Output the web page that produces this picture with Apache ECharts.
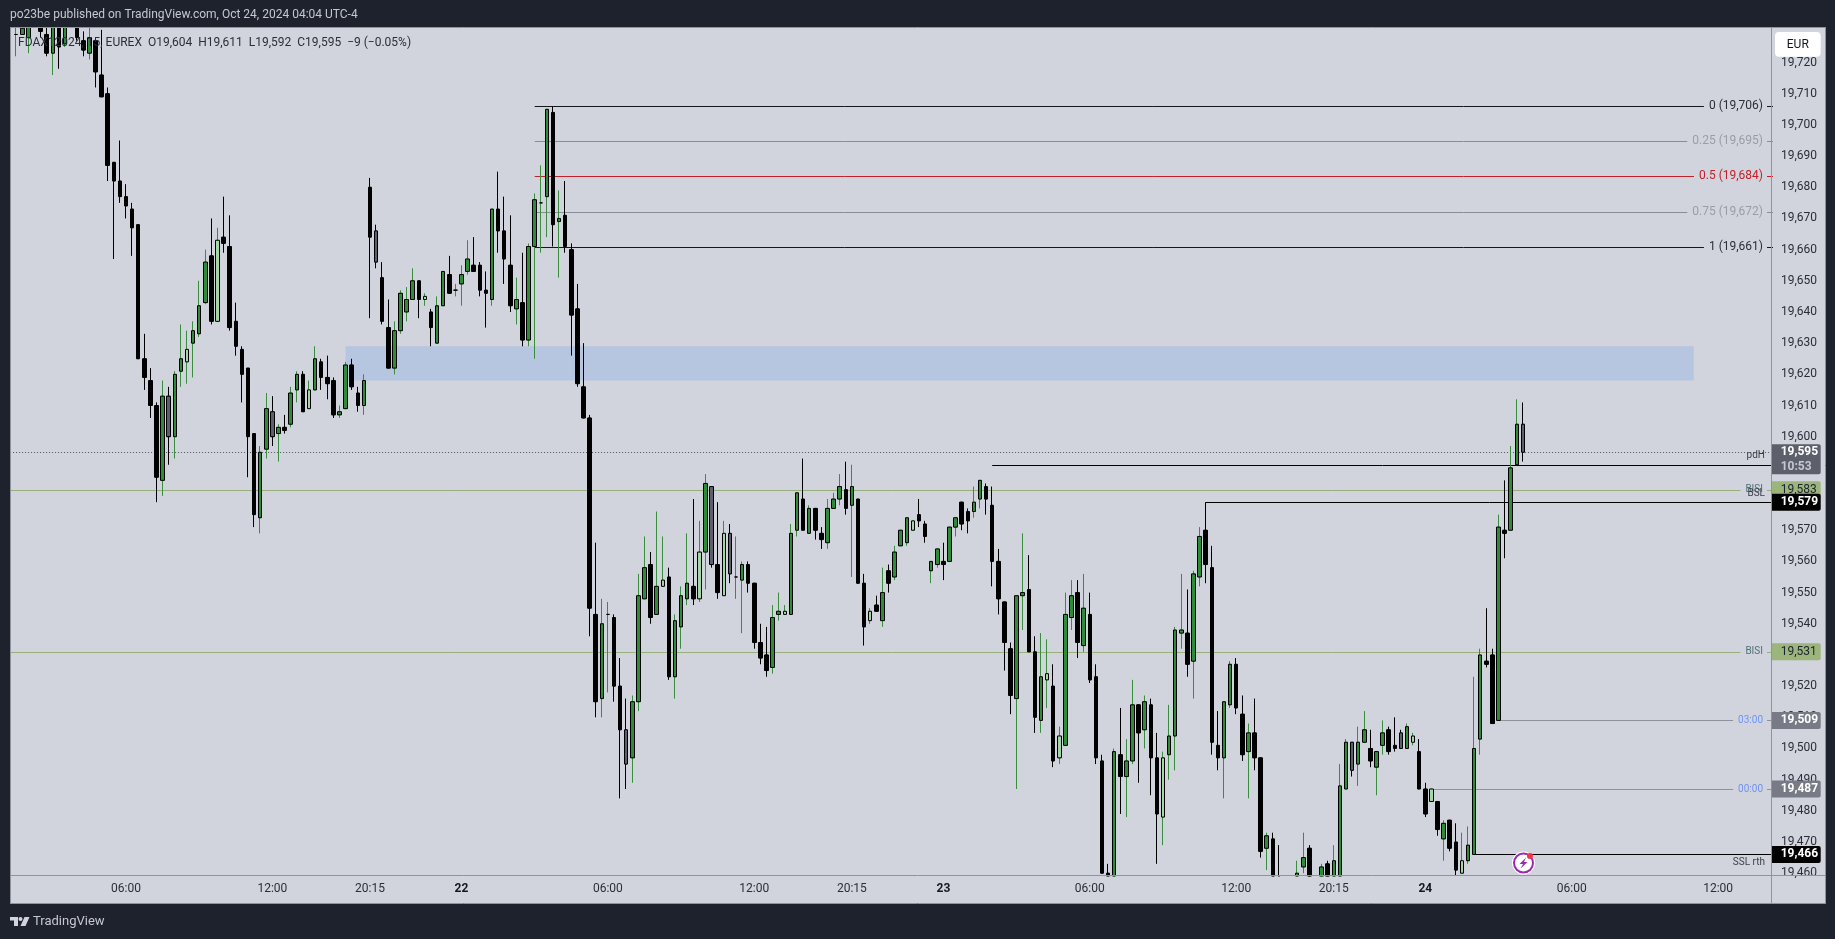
<!DOCTYPE html>
<html><head><meta charset="utf-8">
<style>html,body{margin:0;padding:0;background:#1e222d;overflow:hidden}#c{width:1835px;height:939px}</style>
<script src="https://cdn.jsdelivr.net/npm/echarts@6/dist/echarts.min.js"></script>
</head><body><div id="c"></div>
<script>
// ---------- values: [open, close, low, high] ----------
const barsPart1 = [
[19729,19729,19722,19735],[19729,19731,19729,19733],[19728,19738,19723,19740],[19745,19738,19736,19746],[19738,19730,19728,19740],
[19729,19723,19722,19734],[19723,19738,19716,19742],[19738,19725,19718,19742],[19726,19736,19725,19738],[19734,19740,19733,19742],
[19738,19728,19727,19740],[19727,19724,19722,19730],[19723,19728,19721,19733],[19727,19717,19712,19728],[19716,19709,19709,19730.5],
[19710,19687,19682,19712],[19688,19682,19657,19688],[19682,19677,19675,19695],[19677,19674,19670,19681],[19673,19667,19658,19675],
[19668,19625,19625,19668],[19625,19619,19615,19633],[19618,19610,19606,19622],[19610,19587,19579,19611],[19586,19613,19581,19618],
[19613,19600,19591,19616],[19600,19620,19593,19621],[19621,19625,19616,19636],[19624,19628,19617,19634],[19630,19634,19619,19637],
[19633,19642,19632,19650],[19643,19656,19642.5,19660],[19658,19637,19636,19670],[19637,19663,19637,19667],[19664,19662,19659,19677],
[19661,19635,19634,19671],[19637,19629,19626,19643],[19628,19620,19611,19629],[19622,19600,19587,19622],[19601,19575,19571,19601],
[19574,19595,19569,19597],[19596,19609,19593,19614],[19608,19600,19597,19613],[19601,19603,19592,19604],[19603,19602,19601,19607],
[19604,19614,19603,19616],[19615,19620,19611,19621],[19620,19608,19608,19621],[19609,19615,19609,19618],[19615,19625,19615,19629],
[19624,19619,19615,19625],[19619,19617,19612,19626],[19618,19607,19606,19619],[19607,19608,19606,19610],[19609,19623,19609,19624],
[19623,19616,19615,19625],[19614,19610,19608,19616],[19610,19618,19607,19620],[19680,19664,19638,19683],[19666,19656,19654,19668],
[19651,19637,19636,19656],[19635,19622,19622,19644],[19622,19634,19620,19637],[19634,19646,19633,19647],[19640,19644,19637,19648],
[19644,19650,19644,19654],[19650,19644,19638,19650],[19644,19645,19642,19646],[19640,19635,19629,19641],[19630,19642,19630,19645],
[19642,19653,19642,19653],[19652,19646,19646,19658],[19647,19647,19645,19649],[19649,19652,19642,19655],[19653,19657,19652,19663]
];
const barsPart2 = [
[19655,19653,19653,19664],[19655,19647,19645,19656],[19647,19646,19635,19653],[19644,19673,19642,19673],[19673,19666,19659,19685],
[19666,19657,19649,19677],[19655,19642,19640,19671],[19641,19644,19636,19651],[19643,19631,19629,19659],[19631,19661,19629,19662],
[19661,19676,19625,19678],[19675,19675,19659,19687],[19677,19705,19664,19705],[19704,19668,19661,19706],[19669,19670,19651,19679],
[19671,19661,19659,19682],[19660,19639,19626,19662],[19641,19617,19616,19649],[19616,19606,19606,19630],[19606,19545,19536,19607],
[19543,19515,19510,19566],[19516,19540,19510,19548],[19543,19543,19518,19547],[19542,19520,19515,19543],[19520,19506,19484,19529],
[19506,19495,19487,19516],[19497,19515,19489,19517],[19515,19549,19512,19556],[19548,19558,19548,19568],[19559,19542,19540,19563],
[19543,19552,19543,19576],[19552,19554,19552,19568],[19555,19523,19522,19558],[19523,19541,19516,19543],[19539,19549,19532,19552],
[19548,19553,19546,19569],[19552,19548,19546,19580],[19548,19563,19547,19573],[19563,19585,19551,19588],[19584,19559,19558,19584],
[19559,19550,19548,19579],[19549,19569,19549,19573],[19569,19556,19553,19572],[19555,19555,19548,19568],[19554,19559,19537,19560],
[19559,19553,19550,19560],[19553,19534,19532,19553],[19534,19529,19527,19540],[19530,19525,19523,19539],[19526,19542,19524,19546],
[19543,19544,19541,19550],[19543,19544,19543,19546],[19543,19569,19543,19572],[19570,19582,19568,19582],[19580,19570,19570,19593],
[19569,19577,19569,19578],[19577,19570,19567,19577],[19569,19567,19564,19571],[19566,19577,19564,19580],[19577,19580,19577,19582],
[19580,19584,19578,19588],[19583,19577,19575,19592],[19578,19584,19555,19591],[19580,19553,19553,19580],[19553,19539,19533,19556],
[19541,19544,19540,19545],[19546,19544,19544,19549],[19541,19550,19539,19558],[19557,19553,19550,19559],[19555,19563,19554,19565],
[19565,19570,19565,19570],[19566,19574,19565,19574],[19570,19573,19570,19573],[19575,19573,19571,19580],[19572,19568,19566,19573],
[19557,19560,19553,19560],[19559,19564,19558,19564],[19560,19559,19554,19566],[19560,19571,19560,19571],[19571,19574,19568,19574]
];
const barsPart3 = [
[19579,19572,19570,19579],[19576,19573,19569,19577],[19576,19579,19574,19584],[19580,19586,19577,19586],[19584,19580,19575,19585],
[19578,19560,19552,19584],[19560,19548,19543,19564],[19547,19534,19525,19547],[19532,19517,19511,19534],[19516,19549,19487,19549],
[19549,19550,19538,19569],[19551,19531,19531,19562],[19531,19510,19505,19536],[19509,19523,19505,19537],[19522,19524,19513,19535],
[19520,19496,19494,19527],[19497,19504,19495,19507],[19501,19543,19501,19550],[19542,19549,19538,19554],[19550,19534,19529,19554],
[19533,19545,19531,19556],[19543,19522,19521,19550],[19523,19497,19495,19527],[19496,19460,19460,19498],[19460,19455,19453,19463],
[19450,19499,19448,19500],[19498,19491,19479,19513],[19491,19496,19478,19503],[19496,19514,19495,19522],[19514,19505,19489,19514],
[19506,19515,19500,19517],[19514,19497,19485,19516],[19497,19479,19463,19505],[19478,19497,19469,19499],[19498,19504,19490,19514],
[19504,19538,19493,19539],[19537,19538,19532,19556],[19537,19527,19523,19551],[19528,19556,19516,19557],[19555,19568,19552,19571],
[19570,19559,19553,19579],[19558,19502,19498,19565],[19501,19497,19493,19512],[19497,19515,19484,19515],[19514,19527,19513,19528],
[19527,19513,19511,19529],[19511,19498,19496,19517],[19499,19505,19484,19508],[19505,19497,19493,19516],[19497,19467,19465,19497]
];
const barsPart4 = [
[19468,19472,19461,19473],[19471,19452,19450,19473],[19455,19450,19448,19469],[19450,19445,19442,19455],[19445,19452,19442,19456],
[19450,19460,19448,19464],[19462,19465,19460,19473],[19468,19455,19452,19469],[19456,19452,19450,19458],[19452,19462,19450,19463],
[19463,19455,19452,19464],[19455,19464,19452,19469],[19455,19488,19452,19495],[19487,19502,19487,19503],[19502,19493,19491,19502],
[19495,19502,19488,19507],[19502,19506,19502,19512],[19500,19496,19494,19506],[19494,19499,19485,19499],[19501,19505,19498,19509],
[19506,19499,19498,19507],[19501,19500,19499,19510],[19505,19500,19500,19506],[19500,19507,19500,19508],[19502,19504,19501,19505],
[19499,19487,19487,19503],[19487,19479,19478,19489],[19483,19487,19483,19487],[19483,19474,19472,19483],[19471,19476,19464,19477],
[19477,19468,19467,19477],[19470,19461,19459,19476],[19460,19464,19460,19473],[19464,19469,19463,19475],[19466,19500,19466,19523],
[19503,19530,19498,19532],[19528,19527,19526,19545],[19530,19508,19508,19532],[19509,19571,19509,19575],[19570,19569,19561,19586],
[19570,19590,19570,19597],[19591,19604,19591,19612],[19604,19595,19592,19611]
];
// candle kind per bar: u up, d down, l pale up, g grey down
const barKinds = [
"uuuddduduu","dduddddddd","dddduguulu","uudldddddd","uuguduudlu","ddduuddudg","dduuuudldu","uduuudddud",
"dduduuuudu","dddddduudd","guuudulduu","udlugdlguu","dddduuluud","udduuududd","lduduuuldd","uuduudduud",
"dddduuddul","dluududddd","uduududdlu","uuduuddduu","dduddudddu","uudduduuug","uuduuddgul","ddlduddluu","udduduug"
].join("");

const bars = barsPart1.concat(barsPart2, barsPart3, barsPart4);

const axisSlots = 290;                       // category slots on the time axis, bars start at slot 1
const timeTickSlots  = [19,43,59,74,98,122,138,153,177,201,217,232,256,280];
const timeTickLabels = ["06:00","12:00","20:15","22","06:00","12:00","20:15","23","06:00","12:00","20:15","24","06:00","12:00"];
const dayLabels = ["22","23","24"];
const priceTicks = [19460,19470,19480,19490,19500,19510,19520,19530,19540,19550,19560,19570,19580,19590,19600,19610,19620,19630,19640,19650,19660,19670,19680,19690,19700,19710,19720];
const priceMin = 19459.1, priceMax = 19731.4;

const zoneSlots = [55, 276], zonePrices = [19629, 19618];
const lastPrice = 19595;

// horizontal levels
const fibPrices = [19706, 19694.75, 19683.5, 19672, 19660.75];
const fibTexts  = ["0 (19,706)", "0.25 (19,695)", "0.5 (19,684)", "0.75 (19,672)", "1 (19,661)"];
const fibStart  = 86;
const biasPrices = [19583, 19531];
const sessionPrices = [19509, 19487], sessionStarts = [244, 233], sessionTexts = ["03:00", "00:00"];
const liqPrices = [19591, 19579, 19466], liqStarts = [161, 196, 240], liqTexts = ["pdH", "BSL", "SSL rth"];
const tagPrices = [19583, 19531, 19509, 19487, 19579, 19466];

const headerText = "po23be published on TradingView.com, Oct 24, 2024 04:04 UTC-4";
const legendText = "FDAX12024, 15, EUREX  O19,604  H19,611  L19,592  C19,595  \u22129 (\u22120.05%)";
const countdown = "10:53";

// ---------- styles ----------
const PLOT = "#d1d4dc", CHROME = "#1e222d", EDGE = "#8f939e", INK = "#2a2e39";
const FONT = "Roboto, 'Liberation Sans', sans-serif";
const kindBody = { u: "#2e8b38", d: "#000000", l: "#a5d6a7", g: "#5d606b" };
const kindWick = { u: "#388e3c", d: "#000000", l: "#388e3c", g: "#000000" };
const fibColors = ["#131722", "#8a8d96", "#c4202b", "#8a8d96", "#131722"];
const fibTextColors = ["#2a2e39", "#9a9da6", "#c4202b", "#9a9da6", "#2a2e39"];
const GREEN_LINE = "#97b07a", GREEN_TAG = "#9cb57d", GREY_LINE = "#8f929c", GREY_TAG = "#787b86";

const fmt = v => v.toLocaleString("en-US");
const endSlot = axisSlots - 1;
const slots = Array.from({ length: axisSlots }, (_, i) => String(i));
const clampPrice = v => Math.min(priceMax, Math.max(priceMin, v));
const visible = d => d !== null;

function solid(c, b) { return { color: c, color0: c, borderColor: b, borderColor0: b, borderColorDoji: b, borderWidth: 1 }; }

// the library draws candles past the grid edge, so values are limited to the visible price range
const wickData = bars.map((b, i) => (b[3] < priceMin || b[2] > priceMax) ? null : ({
  value: [i + 1, clampPrice(b[0]), clampPrice(b[1]), clampPrice(b[2]), clampPrice(b[3])],
  itemStyle: solid(kindWick[barKinds[i]], kindWick[barKinds[i]]) })).filter(visible);
const bodyData = bars.map((b, i) => {
  const top = Math.max(b[0], b[1]), bot = Math.min(b[0], b[1]);
  if (top < priceMin || bot > priceMax) return null;
  return { value: [i + 1, clampPrice(b[0]), clampPrice(b[1]), clampPrice(bot), clampPrice(top)],
    itemStyle: solid(kindBody[barKinds[i]], "#000000") };
}).filter(visible);

// a crisp one-pixel level: positioned through the axes, snapped to the pixel grid
function hLine(name, start, price, color, dash, extra) {
  return Object.assign({ name, type: "custom", z: 2, silent: true, animation: false, clip: false, encode: { x: 0, y: 1 },
    renderItem: (p, api) => {
      const s = api.coord([api.value(0), api.value(1)]), e = api.coord([endSlot, api.value(1)]);
      const y = Math.round(s[1]) + 0.5;
      return { type: "line", shape: { x1: s[0], y1: y, x2: e[0], y2: y }, style: { stroke: color, lineWidth: 1, lineDash: dash || null, fill: null } };
    },
    data: [[start, price]] }, extra || {});
}

const series = [];
series.push(hLine("last", 0, lastPrice, "#50535e", [1, 2], {
  markArea: { silent: true, itemStyle: { color: "#b6c5e0" },
    data: [[{ coord: [zoneSlots[0], zonePrices[0]] }, { coord: [zoneSlots[1], zonePrices[1]] }]] } }));
biasPrices.forEach(p => series.push(hLine("bias", 0, p, GREEN_LINE)));
fibPrices.forEach((p, i) => series.push(hLine("fib", fibStart, p, fibColors[i])));
sessionPrices.forEach((p, i) => series.push(hLine("session", sessionStarts[i], p, GREY_LINE)));
liqPrices.forEach((p, i) => series.push(hLine("liq", liqStarts[i], p, "#000000")));

series.push({ name: "wicks", type: "candlestick", z: 3, barWidth: 2, animation: false, encode: { x: 0, y: [1, 2, 3, 4] }, data: wickData });
series.push({ name: "bodies", type: "candlestick", z: 4, barWidth: 4, animation: false, encode: { x: 0, y: [1, 2, 3, 4] }, data: bodyData });

// line labels that interrupt the line
function breakLabel(text, price, color, size) {
  return { value: [endSlot, price], symbolSize: 0,
    label: { show: true, position: "left", distance: 6, formatter: text, color, fontFamily: FONT, fontSize: size,
      backgroundColor: PLOT, padding: [1, 4, 1, 5], lineHeight: 13 } };
}
function plainLabel(text, price, dy) {
  return { value: [endSlot, price], symbolSize: 0,
    label: { show: true, position: "left", distance: 8, offset: [0, dy], formatter: text, color: "#3b3f4a", fontFamily: FONT, fontSize: 10 } };
}
const labelItems = [];
fibPrices.forEach((p, i) => labelItems.push(breakLabel(fibTexts[i], p, fibTextColors[i], 12)));
biasPrices.forEach(p => labelItems.push(breakLabel("BISI", p, "#4f7275", 10)));
sessionPrices.forEach((p, i) => labelItems.push(breakLabel(sessionTexts[i], p, "#6f94f2", 10)));
labelItems.push(plainLabel(liqTexts[0], liqPrices[0], -9), plainLabel(liqTexts[1], liqPrices[1], -9), plainLabel(liqTexts[2], liqPrices[2], 8));
series.push({ name: "levelLabels", type: "scatter", z: 5, silent: true, animation: false, symbolSize: 0, itemStyle: { opacity: 1 }, data: labelItems });

// price tags on the scale
const tagBg = { 19583: GREEN_TAG, 19531: GREEN_TAG, 19509: GREY_TAG, 19487: GREY_TAG, 19579: "#000000", 19466: "#000000" };
const tagInk = { 19583: "#1c2230", 19531: "#1c2230", 19509: "#ffffff", 19487: "#ffffff", 19579: "#ffffff", 19466: "#ffffff" };
const tagItems = tagPrices.map(p => ({ value: [endSlot, p], symbolSize: 0,
  label: { show: true, position: "right", distance: -1.3, align: "left", formatter: fmt(p), color: tagInk[p],
    fontFamily: FONT, fontSize: 12, fontWeight: tagBg[p] === GREEN_TAG ? "normal" : "bold", backgroundColor: tagBg[p],
    width: 40, height: 17, lineHeight: 17, padding: [0, 0, 0, 9], borderRadius: [0, 2, 2, 0] } }));
tagItems.push({ value: [endSlot, lastPrice], symbolSize: 0,
  label: { show: true, position: "right", distance: -1.3, offset: [0, 7], align: "left",
    formatter: "{p|" + fmt(lastPrice) + "}\n{t|" + countdown + "}", backgroundColor: "#5d606b",
    padding: [0, 0, 0, 9], width: 40, height: 30, borderRadius: [0, 2, 2, 0],
    rich: { p: { color: "#fff", fontWeight: "bold", fontSize: 12, fontFamily: FONT, lineHeight: 15, width: 40 },
            t: { color: "#c5c8d0", fontWeight: "bold", fontSize: 12, fontFamily: FONT, lineHeight: 15, width: 40 } } } });
series.push({ name: "priceTags", type: "scatter", z: 6, silent: true, animation: false, symbolSize: 0, itemStyle: { opacity: 1 }, data: tagItems });

// ---------- chrome drawn around the plot ----------
function rect(x, y, w, h, fill, z, r) { return { type: "rect", z: z || 50, silent: true, shape: { x, y, width: w, height: h, r: r || 0 }, style: { fill } }; }
function text(x, y, s, fill, size, align, weight) {
  return { type: "text", z: 60, silent: true, x, y, style: { text: s, fill, font: (weight || "normal") + " " + size + "px " + FONT, align: align || "left", verticalAlign: "middle" } };
}
function seg(x1, y1, x2, y2, c) { return { type: "line", z: 55, silent: true, shape: { x1, y1, x2, y2 }, style: { stroke: c, lineWidth: 1 } }; }
function poly(points, fill, z) { return { type: "polygon", z: z || 62, silent: true, shape: { points }, style: { fill } }; }

const graphics = [
  rect(0, 0, 1835, 27, CHROME), rect(0, 903, 1835, 36, CHROME), rect(0, 0, 10, 939, CHROME), rect(1825, 0, 10, 939, CHROME),
  seg(10, 27.5, 1825, 27.5, EDGE), seg(10, 903.5, 1825, 903.5, EDGE), seg(10.5, 27, 10.5, 903, EDGE), seg(1825.5, 27, 1825.5, 904, EDGE),
  seg(10, 875.5, 1825, 875.5, EDGE), seg(1771.5, 27, 1771.5, 903, EDGE),
  text(10, 15, headerText, "#c5c8d0", 12),
  text(18, 42.5, legendText, INK, 12),
  rect(1775, 32, 45.7, 24.7, "#ffffff", 60, 4),
  { type: "text", z: 62, silent: true, x: 1797.8, y: 44.5, style: { text: "EUR", fill: "#131722", font: "12px " + FONT, align: "center", verticalAlign: "middle" } },
  text(33, 921.5, "TradingView", "#c5c8d0", 13),
  rect(10, 917, 8, 3.5, "#d1d4dc", 62), rect(14, 917, 4, 9, "#d1d4dc", 62),
  { type: "circle", z: 62, silent: true, shape: { cx: 20.5, cy: 919, r: 2 }, style: { fill: "#d1d4dc" } },
  poly([[24.5, 917], [29.5, 917], [25.5, 926], [20.5, 926]], "#d1d4dc"),
  { type: "circle", z: 60, silent: true, shape: { cx: 1523.5, cy: 863, r: 11.5 }, style: { fill: "#ffffff" } },
  { type: "circle", z: 61, silent: true, shape: { cx: 1523.5, cy: 863, r: 9.5 }, style: { fill: "#ffffff", stroke: "#9c27b0", lineWidth: 2 } },
  poly([[1526, 857.5], [1519.5, 864], [1523, 864], [1520.5, 868.5], [1527.5, 862], [1524, 862]], "#9c27b0"),
  { type: "circle", z: 63, silent: true, shape: { cx: 1530, cy: 856, r: 3 }, style: { fill: "#f23645" } }
];

const chart = echarts.init(document.getElementById("c"), null, { renderer: "canvas" });
chart.setOption({
  animation: false,
  backgroundColor: PLOT,
  grid: { left: 10.1, top: 27, width: 1762.9, height: 849, containLabel: false },
  tooltip: { show: false },
  xAxis: {
    type: "category", data: slots, boundaryGap: false,
    axisLine: { show: false }, axisTick: { show: false }, splitLine: { show: false },
    axisLabel: {
      margin: 7, fontFamily: FONT, fontSize: 12, color: INK, hideOverlap: false,
      interval: i => timeTickSlots.indexOf(i) >= 0,
      formatter: (v, i) => {
        const t = timeTickLabels[timeTickSlots.indexOf(i)];
        return t === undefined ? "" : (dayLabels.indexOf(t) >= 0 ? "{d|" + t + "}" : t);
      },
      rich: { d: { fontFamily: FONT, fontSize: 12, fontWeight: "bold", color: "#131722" } }
    }
  },
  yAxis: {
    type: "value", position: "right", min: priceMin, max: priceMax, scale: true,
    axisLine: { show: false }, axisTick: { show: false }, splitLine: { show: false },
    axisLabel: { customValues: priceTicks, margin: 8, fontFamily: FONT, fontSize: 12, color: INK, formatter: v => fmt(v), padding: [0, 0, 3, 0] }
  },
  series,
  graphic: { elements: graphics }
});
</script></body></html>
